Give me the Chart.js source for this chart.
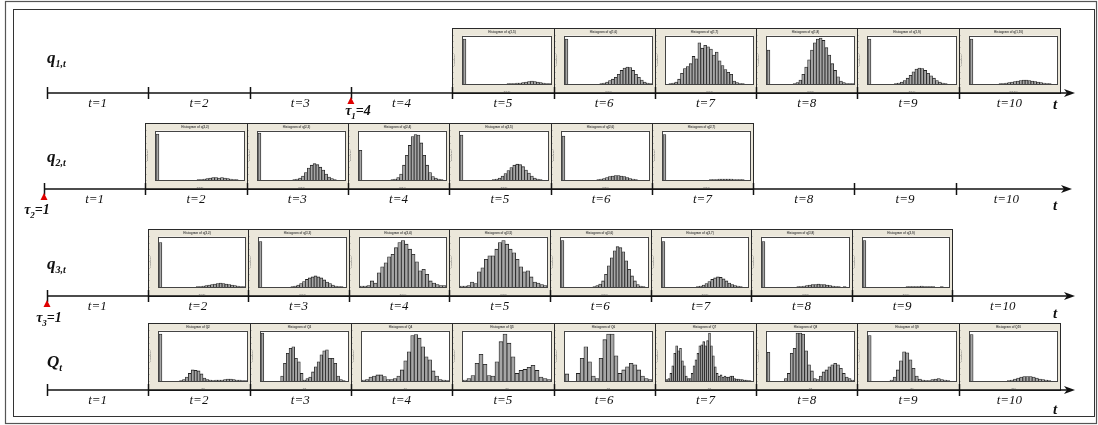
<!DOCTYPE html>
<html>
<head>
<meta charset="utf-8">
<script src="https://cdn.jsdelivr.net/npm/chart.js@4.4.1/dist/chart.umd.min.js"></script>
<style>
body { margin: 0; width: 1098px; height: 425px; background: #fff; position: relative; overflow: hidden;
       font-family: "Liberation Serif", "Times New Roman", serif; }
.panel { position: absolute; background: #ebe7da; box-shadow: inset 0 0 0 1px #2a2a2a; }
.panel canvas { display: block; }
.lbl { position: absolute; transform: translate(-50%, -50%); white-space: nowrap; font-style: italic; color: #111; }
.per { font-size: 13px; }
.name { font-size: 17px; font-weight: bold; transform: translate(0, -50%); }
.name sub { font-size: 10px; vertical-align: -4px; }
.tau { font-size: 14px; font-weight: bold; }
.tau sub { font-size: 9px; vertical-align: -4px; }
.tend { font-size: 15px; font-weight: bold; }
svg { position: absolute; left: 0; top: 0; pointer-events: none; }
</style>
</head>
<body>
<script>
// ---- data: bar heights of every small histogram, in % of its plot height ----
const q1_t5  = [93,0,0,0,0,0,0,0,0,0,0,0,0,0,0,1,1,1,2,2,3,4,5,6,5,4,3,2,1,1];
const q1_t6  = [93,0,0,0,0,0,0,0,0,0,0,0,1,2,4,7,10,14,20,28,33,35,34,28,20,14,8,4,2,1];
const q1_t7  = [0,1,2,4,10,22,32,36,42,57,52,85,74,80,77,72,60,66,48,38,30,24,20,6,3,1,1,0,0,0];
const q1_t8  = [70,0,0,0,0,0,0,0,0,1,3,8,20,35,50,70,85,93,95,90,75,60,42,28,15,6,3,1,1,1];
const q1_t9  = [93,0,0,0,0,0,0,0,0,1,2,4,7,12,18,25,31,33,32,28,22,17,12,7,4,2,1,0,0,0];
const q1_t10 = [93,0,0,0,0,0,0,0,0,0,1,1,2,3,4,5,6,7,8,8,7,6,5,4,3,2,1,1,0,0];

const q2_t2 = [93,0,0,0,0,0,0,0,0,0,0,0,0,0,1,1,2,3,4,5,5,4,5,4,3,2,1,1,0,0];
const q2_t3 = [95,0,0,0,0,0,0,0,0,0,0,0,1,2,4,8,15,24,30,33,31,26,20,12,6,3,1,0,0,0];
const q2_t4 = [60,0,0,0,0,0,0,0,0,0,0,1,2,5,12,30,50,70,88,92,91,75,50,30,15,7,4,2,1,0];
const q2_t5 = [91,0,0,0,0,0,0,0,0,0,0,1,2,4,8,13,19,25,30,32,31,27,20,14,8,4,2,1,0,0];
const q2_t6 = [89,0,0,0,0,0,0,0,0,0,0,0,1,2,3,5,7,8,9,9,8,7,5,3,2,1,0,0,0,0];
const q2_t7 = [92,0,0,0,0,0,0,0,0,0,0,0,0,0,0,0,1,1,1,2,2,2,2,2,1,1,1,1,0,0];

const q3_t2 = [88,0,0,0,0,0,0,0,0,0,0,0,0,1,1,2,3,4,5,6,7,8,7,6,5,4,3,2,1,1];
const q3_t3 = [90,0,0,0,0,0,0,0,0,0,0,1,2,4,7,11,15,18,20,22,20,18,14,10,7,4,2,1,1,0];
const q3_t4 = [2,2,3,12,8,28,40,48,60,65,78,88,92,85,75,65,50,32,35,25,12,8,5,3,3];
const q3_t5 = [2,2,3,10,7,30,38,55,62,62,75,88,92,85,75,68,55,40,30,32,20,10,8,5,3];
const q3_t6 = [92,0,0,0,0,0,0,0,0,0,0,1,3,6,12,25,42,58,72,80,78,70,52,35,22,12,5,2,1,0];
const q3_t7 = [90,0,0,0,0,0,0,0,0,0,0,0,1,2,4,7,11,15,18,20,19,16,12,8,5,3,2,1,0,0];
const q3_t8 = [90,0,0,0,0,0,0,0,0,0,0,0,1,1,2,3,4,5,5,6,5,5,4,3,2,1,1,0,1,0];
const q3_t9 = [92,0,0,0,0,0,0,0,0,0,0,0,0,0,0,1,1,1,1,1,2,1,1,1,1,0,0,1,0,0];

const Q_t2  = [93,0,0,0,0,0,0,1,3,8,15,22,21,20,14,6,3,2,1,2,2,2,3,4,4,3,2,2,1,1];
const Q_t3  = [95,0,0,0,0,0,0,10,35,55,65,68,45,38,15,2,5,8,18,28,38,52,60,62,45,45,35,10,3,1,0];
const Q_t4  = [2,3,8,10,12,12,9,3,3,5,10,22,40,58,90,92,85,68,48,42,20,10,3,2,1];
const Q_t5  = [2,5,11,35,53,33,11,10,38,78,93,75,48,15,21,23,27,31,21,8,5,3];
const Q_t6  = [14,0,0,15,45,68,38,10,5,45,82,93,93,50,15,22,28,35,32,22,10,5,3];
const Q_t7  = [3,5,15,30,55,70,60,65,40,30,10,5,5,15,30,42,55,70,72,78,70,80,95,70,50,28,15,10,12,8,10,8,8,10,10,5,4,4,3,3,2,2,1,1,0];
const Q_t8  = [57,0,0,0,0,0,5,15,55,65,95,95,93,60,32,20,5,3,10,18,22,28,32,35,32,25,15,8,5,2];
const Q_t9  = [90,0,0,0,0,0,0,2,8,22,40,58,56,42,25,10,4,2,1,1,3,4,5,3,2,1,0,0];
const Q_t10 = [92,0,0,0,0,0,0,0,0,0,0,0,1,2,4,6,8,9,9,9,8,6,4,3,2,1,0,0];

// panels of each row, indexed by period t=1..10 (null = no panel)
const rowSeries = [
  [null, null, null, null, q1_t5, q1_t6, q1_t7, q1_t8, q1_t9, q1_t10],
  [null, q2_t2, q2_t3, q2_t4, q2_t5, q2_t6, q2_t7, null, null, null],
  [null, q3_t2, q3_t3, q3_t4, q3_t5, q3_t6, q3_t7, q3_t8, q3_t9, null],
  [null, Q_t2, Q_t3, Q_t4, Q_t5, Q_t6, Q_t7, Q_t8, Q_t9, Q_t10]
];
const rowVars = ['q(1,', 'q(2,', 'q(3,', 'Q'];
const periods = ['t=1','t=2','t=3','t=4','t=5','t=6','t=7','t=8','t=9','t=10'];
const qTickLabels = ['0','1250','2500','3750','5000','6250','7500'];
const QTickLabels = ['0','2500','5000','7500','10000','12500','15000'];
const freqTicks = ['0','50','100','150','200','250','300','350','400'];

// ---- layout of the four time lines ----
const rows = [
  { y: 93,  x0: 47, step: 101.3, tip: 1075, top: 28,  nameY: 58,  name: 'q', sub: '1,t', tY: 104, tau: { tick: 3, x: 358, y: 112, sub: '1', val: '4' } },
  { y: 189, x0: 44, step: 101.3, tip: 1072, top: 123, nameY: 157, name: 'q', sub: '2,t', tY: 205, tau: { tick: 0, x: 37,  y: 211, sub: '2', val: '1' } },
  { y: 296, x0: 47, step: 100.6, tip: 1075, top: 229, nameY: 264, name: 'q', sub: '3,t', tY: 313, tau: { tick: 0, x: 49,  y: 319, sub: '3', val: '1' } },
  { y: 390, x0: 47, step: 101.3, tip: 1075, top: 323, nameY: 362, name: 'Q', sub: 't',   tY: 409, tau: null }
];

// white plot box with a dark frame, Minitab style
const plotBox = {
  id: 'plotBox',
  beforeDraw(chart) {
    const a = chart.chartArea, c = chart.ctx;
    c.save();
    c.fillStyle = '#fff';
    c.fillRect(a.left, a.top, a.right - a.left, a.bottom - a.top);
    c.restore();
  },
  afterDraw(chart) {
    const a = chart.chartArea, c = chart.ctx;
    c.save();
    c.strokeStyle = '#444';
    c.lineWidth = 1;
    c.strokeRect(Math.round(a.left) - 0.5, Math.round(a.top) + 0.5,
                 Math.round(a.right - a.left) + 1, Math.round(a.bottom - a.top));
    c.restore();
  }
};

function histChart(canvas, values, title, xName, tickLabels) {
  const labels = values.map((v, i) => String(i));
  const every = Math.ceil(values.length / (tickLabels.length - 1));
  return new Chart(canvas, {
    type: 'bar',
    data: {
      labels: labels,
      datasets: [{
        data: values,
        backgroundColor: '#a6a6a6',
        borderColor: '#222',
        borderWidth: 0.8,
        categoryPercentage: 1,
        barPercentage: 1
      }]
    },
    options: {
      responsive: false,
      animation: false,
      events: [],
      layout: { padding: { left: 1, right: 4, top: 1, bottom: 1 } },
      plugins: {
        legend: { display: false },
        tooltip: { enabled: false },
        title: { display: true, text: title, color: '#444', font: { size: 3 }, padding: { top: 1, bottom: 2 } }
      },
      scales: {
        x: {
          grid: { display: false },
          border: { display: false },
          ticks: {
            autoSkip: false, maxRotation: 0, padding: 1, color: '#777', font: { size: 2.5 },
            callback: (v, i) => (i % every === 0 ? (tickLabels[i / every] || '') : '')
          },
          title: { display: true, text: xName, color: '#666', font: { size: 2.5 }, padding: 0 },
          afterFit(s) { s.height = 9; }
        },
        y: {
          min: 0, max: 100,
          grid: { display: false },
          border: { display: false },
          ticks: { stepSize: 12.5, padding: 1, color: '#777', font: { size: 2.5 },
                   callback: (v, i) => freqTicks[i] },
          title: { display: true, text: 'Frequency', color: '#666', font: { size: 2.5 }, padding: 0 },
          afterFit(s) { s.width = 10; }
        }
      }
    },
    plugins: [plotBox]
  });
}

// panels
rows.forEach((r, ri) => {
  rowSeries[ri].forEach((vals, k) => {
    if (!vals) return;
    const left = Math.round(r.x0 + k * r.step);
    const right = Math.round(r.x0 + (k + 1) * r.step);
    const w = right - left + 1, h = r.y - r.top + 1;
    const div = document.createElement('div');
    div.className = 'panel';
    div.style.left = left + 'px';
    div.style.top = r.top + 'px';
    div.style.width = w + 'px';
    div.style.height = h + 'px';
    const cv = document.createElement('canvas');
    cv.width = w; cv.height = h;
    div.appendChild(cv);
    document.body.appendChild(div);
    const v = rowVars[ri];
    const xName = ri === 3 ? v + (k + 1) : v + (k + 1) + ')';
    histChart(cv, vals, 'Histogram of ' + xName, xName, ri === 3 ? QTickLabels : qTickLabels);
  });
});

// time lines, ticks, arrows and markers
const NS = 'http://www.w3.org/2000/svg';
const svg = document.createElementNS(NS, 'svg');
svg.setAttribute('width', 1098);
svg.setAttribute('height', 425);
function el(tag, attrs) {
  const e = document.createElementNS(NS, tag);
  for (const k in attrs) e.setAttribute(k, attrs[k]);
  svg.appendChild(e);
  return e;
}
el('rect', { x: 5.5, y: 1.5, width: 1091, height: 422, fill: 'none', stroke: '#555', 'stroke-width': 1.2 });
el('rect', { x: 13.5, y: 9.5, width: 1081, height: 407, fill: 'none', stroke: '#333', 'stroke-width': 1 });

rows.forEach(r => {
  el('line', { x1: r.x0, y1: r.y, x2: r.tip - 6, y2: r.y, stroke: '#111', 'stroke-width': 1.6 });
  el('polygon', { points: `${r.tip},${r.y} ${r.tip - 11},${r.y - 4} ${r.tip - 8},${r.y} ${r.tip - 11},${r.y + 4}`, fill: '#111' });
  periods.forEach((p, i) => {
    const x = Math.round(r.x0 + i * r.step) + 0.5;
    el('line', { x1: x, y1: r.y - 6, x2: x, y2: r.y + 6, stroke: '#111', 'stroke-width': 1.5 });
  });
  if (r.tau) {
    const x = r.x0 + r.tau.tick * r.step;
    el('polygon', { points: `${x},${r.y + 4} ${x - 3.5},${r.y + 11} ${x + 3.5},${r.y + 11}`, fill: '#e00000' });
  }
});
document.body.appendChild(svg);

// text
function label(cls, html, x, y) {
  const d = document.createElement('div');
  d.className = 'lbl ' + cls;
  d.innerHTML = html;
  d.style.left = x + 'px';
  d.style.top = y + 'px';
  document.body.appendChild(d);
}
rows.forEach(r => {
  periods.forEach((p, i) => label('per', p, r.x0 + (i + 0.5) * r.step, r.y + 10));
  label('name', r.name + '<sub>' + r.sub + '</sub>', 47, r.nameY);
  label('tend', 't', 1055, r.tY);
  if (r.tau) label('tau', '&tau;<sub>' + r.tau.sub + '</sub>=' + r.tau.val, r.tau.x, r.tau.y);
});
</script>
</body>
</html>
